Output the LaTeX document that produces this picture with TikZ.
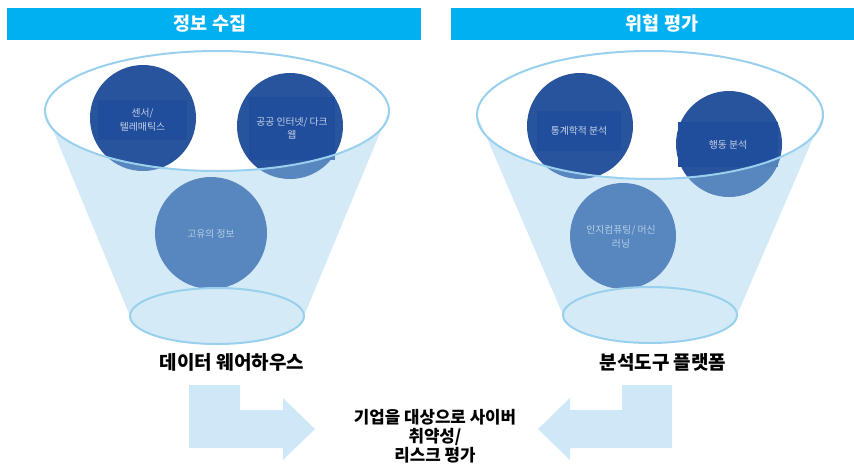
\documentclass[tikz,border=0pt]{standalone}
\usepackage{fontspec}
\newfontfamily\kr{Noto Sans CJK KR}
\definecolor{hdrblue}{HTML}{00B0F0}
\definecolor{balldark}{HTML}{28539D}
\definecolor{boxdark}{HTML}{204E9C}
\definecolor{balltext}{HTML}{C5D2E8}
\definecolor{conefill}{RGB}{155,205,236}
\definecolor{arrowblue}{HTML}{CFE8F7}
\definecolor{rimblue}{HTML}{98D0EE}
\begin{document}
\begin{tikzpicture}[x=1pt,y=1pt,
  hdrtext/.style={text=white, font=\kr\bfseries\fontsize{18.5}{20}\selectfont},
  ball/.style={circle, fill=balldark, minimum size=106, inner sep=0},
  tbox/.style={fill=boxdark, inner sep=0, align=center, text=balltext, font=\kr\fontsize{9.8}{13.5}\selectfont},
  btext/.style={inner sep=0, align=center, text=balltext, font=\kr\fontsize{9.8}{13.5}\selectfont},
  rim/.style={draw=rimblue, line width=2},
  cone/.style={fill=conefill, fill opacity=0.42},
  lbl/.style={font=\kr\bfseries\fontsize{19}{21}\selectfont},
  ctext/.style={align=center, font=\kr\bfseries\fontsize{16.8}{19}\selectfont},
  arrowshape/.style={fill=arrowblue}]
\useasboundingbox (0,0) rectangle (854,-472);

% headers
\fill[hdrblue] (7,-8) rectangle (421,-40);
\fill[hdrblue] (451,-8) rectangle (854,-40);
\node[hdrtext] (h1) at (210,-24) {정보 수집};
\node[hdrtext] (h2) at (662,-24) {위협 평가};

% left funnel balls
\node[ball] (s1) at (143,-118) {};
\node[tbox, minimum width=89, minimum height=40] (s1t) at (142.5,-120) {센서/\\텔레매틱스};
\node[ball] (s2) at (290,-126) {};
\node[tbox, minimum width=86, minimum height=63] (s2t) at (292,-128.5) {공공 인터넷/ 다크\\웹};
\node[ball, minimum size=112] (s3) at (211,-233) {};
\node[btext] (s3t) at (211,-234) {고유의 정보};

% right funnel balls
\node[ball] (r1) at (580,-126) {};
\node[tbox, minimum width=84, minimum height=40] (r1t) at (579,-131) {통계학적 분석};
\node[ball] (r2) at (729,-144) {};
\node[tbox, minimum width=100, minimum height=45] (r2t) at (728,-144.5) {행동 분석};
\node[ball] (r3) at (623,-236) {};
\node[btext] (r3t) at (621,-237) {인지컴퓨팅/ 머신\\러닝};

% cone fronts
\path[cone] (45,-111) -- (130,-316)
  arc[start angle=180, end angle=360, x radius=87, y radius=28]
  -- (389,-111)
  arc[start angle=0, end angle=-180, x radius=172, y radius=60] -- cycle;
\path[cone] (477,-115) -- (563,-315)
  arc[start angle=180, end angle=360, x radius=87, y radius=28]
  -- (823,-115)
  arc[start angle=0, end angle=-180, x radius=173, y radius=64] -- cycle;

% rims
\draw[rim] (217,-111) ellipse[x radius=172, y radius=60];
\draw[rim] (217,-316) ellipse[x radius=87, y radius=28];
\draw[rim] (650,-115) ellipse[x radius=173, y radius=64];
\draw[rim] (650,-315) ellipse[x radius=87, y radius=28];

% labels
\node[lbl] (l1) at (232,-362) {데이터 웨어하우스};
\node[lbl] (l2) at (663,-362) {분석도구 플랫폼};

% arrows
\fill[arrowshape] (189,-385) -- (240,-385) -- (240,-410) -- (283,-410) -- (283,-398)
  -- (315,-429) -- (283,-460) -- (283,-448) -- (189,-448) -- cycle;
\fill[arrowshape] (672,-385) -- (622,-385) -- (622,-410) -- (570,-410) -- (570,-398)
  -- (538,-429) -- (570,-460) -- (570,-448) -- (672,-448) -- cycle;

\node[ctext] (c) at (435,-436) {기업을 대상으로 사이버\\취약성/\\리스크 평가};
\end{tikzpicture}
\end{document}
